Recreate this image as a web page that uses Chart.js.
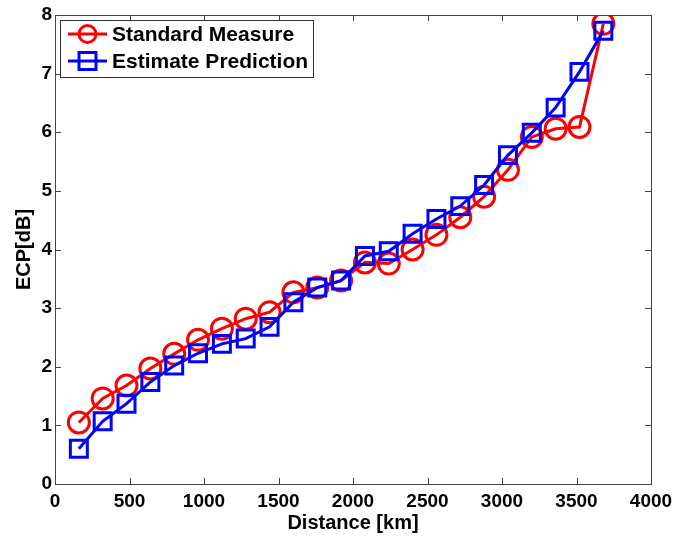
<!DOCTYPE html>
<html>
<head>
<meta charset="utf-8">
<script src="https://cdn.jsdelivr.net/npm/chart.js"></script>
<style>
html, body { margin: 0; padding: 0; background: #fff; }
</style>
</head>
<body>
<canvas id="ecp" width="676" height="539"></canvas>
<script>
// values
var distanceKm = [160, 320, 480, 640, 800, 960, 1120, 1280, 1440, 1600, 1760, 1920,
                  2080, 2240, 2400, 2560, 2720, 2880, 3040, 3200, 3360, 3520, 3680];
var standardMeasure = [1.05, 1.46, 1.68, 1.97, 2.22, 2.46, 2.65, 2.82, 2.93, 3.27, 3.35, 3.47,
                       3.78, 3.76, 4.00, 4.25, 4.55, 4.90, 5.36, 5.92, 6.06, 6.09, 7.85];
var estimatePrediction = [0.60, 1.07, 1.37, 1.74, 2.02, 2.23, 2.39, 2.48, 2.68, 3.10, 3.35, 3.47,
                          3.89, 3.97, 4.27, 4.52, 4.74, 5.10, 5.61, 5.99, 6.42, 7.03, 7.73];
var xTicks = [0, 500, 1000, 1500, 2000, 2500, 3000, 3500, 4000];
var yTicks = [0, 1, 2, 3, 4, 5, 6, 7, 8];

function toPoints(ys) {
    return distanceKm.map(function (d, i) { return { x: d, y: ys[i] }; });
}

var FONT = '"Liberation Sans", Arial, sans-serif';

// MATLAB style box with inward ticks
var boxPlugin = {
    id: 'box',
    afterDraw: function (chart) {
        var ctx = chart.ctx, a = chart.chartArea;
        var xs = chart.scales.x, ys = chart.scales.y;
        ctx.save();
        ctx.strokeStyle = '#444';
        ctx.lineWidth = 1;
        ctx.beginPath();
        xTicks.forEach(function (t) {
            var px = Math.round(xs.getPixelForValue(t)) + 0.5;
            ctx.moveTo(px, a.bottom); ctx.lineTo(px, a.bottom - 6);
            ctx.moveTo(px, a.top); ctx.lineTo(px, a.top + 6);
        });
        yTicks.forEach(function (t) {
            var py = Math.round(ys.getPixelForValue(t)) + 0.5;
            ctx.moveTo(a.left, py); ctx.lineTo(a.left + 6, py);
            ctx.moveTo(a.right, py); ctx.lineTo(a.right - 6, py);
        });
        ctx.stroke();
        ctx.strokeRect(Math.round(a.left) + 0.5, Math.round(a.top) + 0.5,
                       Math.round(a.right - a.left), Math.round(a.bottom - a.top));

        // legend inside the axes
        var lx = 60.5, ly = 20.5, lw = 253, lh = 57;
        ctx.fillStyle = '#fff';
        ctx.fillRect(lx, ly, lw, lh);
        ctx.strokeStyle = '#333';
        ctx.strokeRect(lx, ly, lw, lh);
        chart.data.datasets.forEach(function (ds, i) {
            var y = 34 + i * 27;
            ctx.strokeStyle = ds.borderColor;
            ctx.lineWidth = 3;
            ctx.beginPath();
            ctx.moveTo(68, y); ctx.lineTo(107, y);
            ctx.stroke();
            ctx.beginPath();
            if (ds.pointStyle === 'rect') {
                ctx.rect(79, y - 8.5, 17, 17);
            } else {
                ctx.arc(87.5, y, 8.5, 0, Math.PI * 2);
            }
            ctx.stroke();
            ctx.fillStyle = '#000';
            ctx.font = 'bold 21px ' + FONT;
            ctx.textBaseline = 'middle';
            ctx.fillText(ds.label, 112, y + 1);
        });
        ctx.restore();
    }
};

var plainGrid = { display: true, drawOnChartArea: false, drawTicks: false, tickLength: 0 };

function noOverhang(s) {
    s.paddingTop = 0; s.paddingBottom = 0; s.paddingLeft = 0; s.paddingRight = 0;
}

new Chart(document.getElementById('ecp').getContext('2d'), {
    type: 'line',
    data: {
        datasets: [{
            label: 'Standard Measure',
            data: toPoints(standardMeasure),
            borderColor: '#ff0000',
            borderWidth: 3,
            pointStyle: 'circle',
            pointRadius: 10.5,
            pointBorderWidth: 3,
            pointBackgroundColor: 'rgba(0,0,0,0)',
            pointBorderColor: '#ff0000',
            order: 2
        }, {
            label: 'Estimate Prediction',
            data: toPoints(estimatePrediction),
            borderColor: '#0000ff',
            borderWidth: 3,
            pointStyle: 'rect',
            pointRadius: 12,
            pointBorderWidth: 3,
            pointBackgroundColor: 'rgba(0,0,0,0)',
            pointBorderColor: '#0000ff',
            order: 1
        }]
    },
    options: {
        responsive: false,
        animation: false,
        layout: { padding: { top: 13, right: 25, left: 0, bottom: 0 } },
        plugins: { legend: { display: false }, tooltip: { enabled: false } },
        scales: {
            x: {
                type: 'linear',
                min: 0, max: 4000,
                afterBuildTicks: function (s) { s.ticks = xTicks.map(function (v) { return { value: v }; }); },
                afterFit: function (s) { s.height = 55; noOverhang(s); },
                grid: plainGrid,
                border: { display: false },
                ticks: { color: '#000', padding: 6, maxRotation: 0,
                         callback: function (v) { return String(v); },
                         font: { family: FONT, size: 19, weight: 'bold' } },
                title: { display: true, text: 'Distance [km]', color: '#000', padding: { top: 0, bottom: 4 },
                         font: { family: FONT, size: 20, weight: 'bold' } }
            },
            y: {
                min: 0, max: 8,
                afterBuildTicks: function (s) { s.ticks = yTicks.map(function (v) { return { value: v }; }); },
                afterFit: function (s) { s.width = 55; noOverhang(s); },
                grid: plainGrid,
                border: { display: false },
                ticks: { color: '#000', padding: 3,
                         callback: function (v) { return String(v); },
                         font: { family: FONT, size: 19, weight: 'bold' } },
                title: { display: true, text: 'ECP[dB]', color: '#000', padding: { top: 12, bottom: 0 },
                         font: { family: FONT, size: 20, weight: 'bold' } }
            }
        }
    },
    plugins: [boxPlugin]
});
</script>
</body>
</html>
